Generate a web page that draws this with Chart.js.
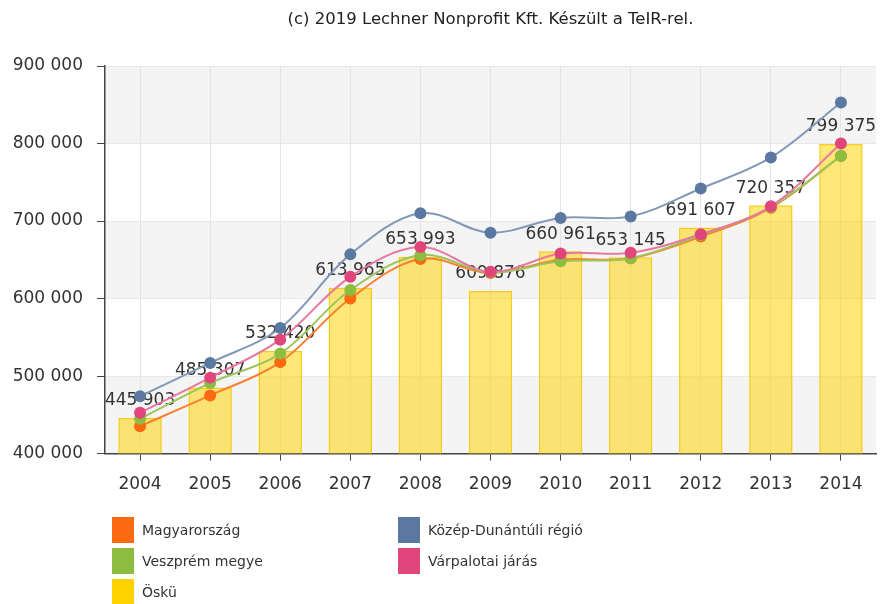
<!DOCTYPE html>
<html>
<head>
<meta charset="utf-8">
<script src="https://cdn.jsdelivr.net/npm/chart.js@4"></script>
<style>
  body { margin: 0; background: #fff; }
  #wrap { position: relative; width: 882px; height: 604px; }
  #legend {
    position: absolute; left: 112px; top: 517px;
    display: grid; grid-template-columns: 286px 300px; row-gap: 5px;
    font-family: "DejaVu Sans", sans-serif; font-size: 14px; color: #333;
  }
  .item { display: flex; align-items: center; height: 26px; }
  .box { width: 22px; height: 26px; margin-right: 8px; }
</style>
</head>
<body>
<div id="wrap">
  <canvas id="chart" width="882" height="604"></canvas>
  <div id="legend"></div>
</div>
<script>
const years = ["2004","2005","2006","2007","2008","2009","2010","2011","2012","2013","2014"];
const oskuValues = [445903, 485307, 532420, 613965, 653993, 609876, 660961, 653145, 691607, 720357, 799375];
const magyarValues = [435400, 475000, 518000, 600000, 651000, 633000, 650000, 652000, 680000, 717000, 784000];
const kozepValues = [474000, 517000, 562000, 657000, 710000, 685000, 704000, 706000, 742000, 782000, 853000];
const veszpremValues = [445000, 491000, 529000, 611000, 656000, 634000, 648000, 652000, 682000, 718000, 784000];
const varpalotaValues = [452600, 498000, 547000, 628000, 666500, 634500, 658000, 659000, 683000, 719000, 800000];
const yTicks = [400000, 500000, 600000, 700000, 800000, 900000];

const font = "DejaVu Sans";
const fmt = n => String(n).replace(/\B(?=(\d{3})+(?!\d))/g, " ");

function lineSet(label, data, lineColor, pointColor, order) {
  return {
    type: "line", label: label, data: data, order: order,
    borderColor: lineColor, backgroundColor: pointColor, borderWidth: 2,
    pointBackgroundColor: pointColor, pointBorderWidth: 0, pointRadius: 6,
    tension: 0.35, fill: false
  };
}

// alternating grey bands behind the plot
const bands = {
  id: "bands",
  beforeDraw(chart) {
    const ctx = chart.ctx, a = chart.chartArea, y = chart.scales.y;
    ctx.save();
    ctx.fillStyle = "#fff";
    ctx.fillRect(0, 0, chart.width, chart.height);
    ctx.fillStyle = "#f4f4f4";
    for (let i = 0; i < yTicks.length - 1; i += 2) {
      const top = y.getPixelForValue(yTicks[i + 1]);
      const bot = y.getPixelForValue(yTicks[i]);
      ctx.fillRect(a.left, top, a.right - a.left, bot - top);
    }
    ctx.fillStyle = "#222";
    ctx.font = "16.5px " + font;
    ctx.textAlign = "center";
    ctx.textBaseline = "middle";
    ctx.fillText("(c) 2019 Lechner Nonprofit Kft. Készült a TeIR-rel.", (a.left + a.right) / 2, 20);
    ctx.restore();
  }
};

// value labels above the Öskü bars
const barLabels = {
  id: "barLabels",
  afterDatasetDraw(chart, args) {
    if (args.meta.type !== "bar") return;
    const ctx = chart.ctx;
    ctx.save();
    ctx.fillStyle = "#333";
    ctx.font = "17px " + font;
    ctx.textAlign = "center";
    ctx.textBaseline = "middle";
    args.meta.data.forEach((el, i) => {
      ctx.fillText(fmt(oskuValues[i]), el.x, el.y - 17);
    });
    ctx.restore();
  }
};

const chart = new Chart(document.getElementById("chart"), {
  type: "bar",
  data: {
    labels: years,
    datasets: [
      lineSet("Magyarország", magyarValues, "#f7812f", "#fb6a10", 4),
      lineSet("Közép-Dunántúli régió", kozepValues, "#8399b7", "#5b79a0", 1),
      lineSet("Veszprém megye", veszpremValues, "#9cc65c", "#8cbd3f", 3),
      lineSet("Várpalotai járás", varpalotaValues, "#e7799f", "#e0467c", 2),
      {
        type: "bar", label: "Öskü", data: oskuValues, order: 10,
        backgroundColor: "rgba(255,212,10,0.55)", borderColor: "rgba(246,200,0,0.9)",
        borderWidth: 1.5, barPercentage: 0.62, categoryPercentage: 1
      }
    ]
  },
  options: {
    responsive: false,
    animation: false,
    layout: { padding: { top: 66, right: 5, bottom: 95, left: 0 } },
    plugins: { legend: { display: false }, title: { display: false }, tooltip: { enabled: false } },
    scales: {
      x: {
        offset: true,
        grid: { offset: false, color: "#e4e4e4", tickColor: "#444", tickLength: 7 },
        border: { color: "#444", width: 1.5 },
        ticks: { color: "#333", font: { family: font, size: 17 }, padding: 14 }
      },
      y: {
        min: 400000, max: 900000,
        afterFit(scale) { scale.width = 105; },
        grid: { color: "#e8e8e8", tickColor: "#444", tickLength: 8 },
        border: { color: "#444", width: 1.5 },
        ticks: { stepSize: 100000, color: "#333", font: { family: font, size: 17 }, padding: 14,
                 callback: v => fmt(v) }
      }
    }
  },
  plugins: [bands, barLabels]
});

const legend = document.getElementById("legend");
chart.data.datasets.forEach(ds => {
  const item = document.createElement("div");
  item.className = "item";
  const box = document.createElement("span");
  box.className = "box";
  box.style.background = ds.type === "bar" ? "#ffd200" : ds.pointBackgroundColor;
  item.appendChild(box);
  item.appendChild(document.createTextNode(ds.label));
  legend.appendChild(item);
});
</script>
</body>
</html>
